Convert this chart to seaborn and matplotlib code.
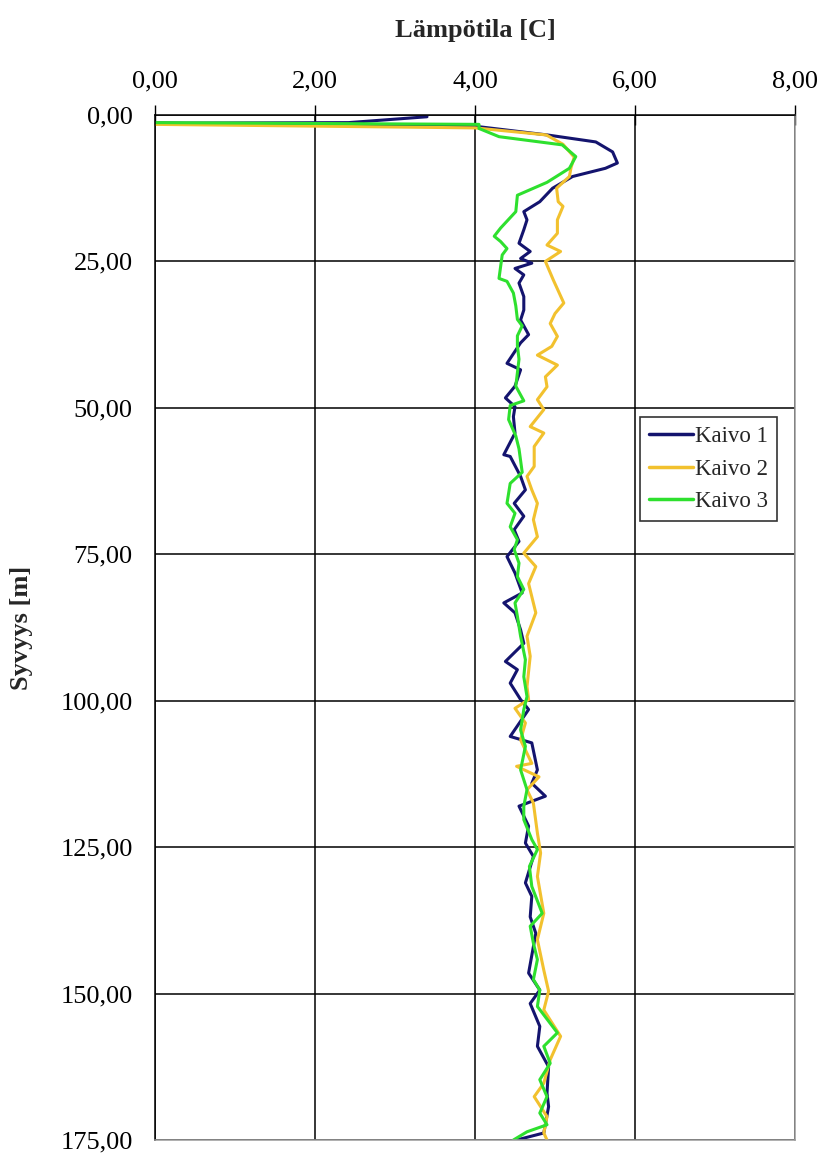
import pandas as pd
import matplotlib
matplotlib.use('Agg')
import matplotlib.pyplot as plt
import seaborn as sns

# Kaivo 1 (depth m, temperature C)
k1_depth = [0.3, 1.3, 1.4, 2.0, 3.4, 4.6, 6.3, 8.2, 9.1, 10.5, 12.5, 14.8, 16.5, 17.9, 19.6,
            21.9, 23.3, 24.5, 25.3, 26.2, 27.3, 28.7, 31.0, 33.3, 35.0, 37.5, 38.9, 42.4, 43.5,
            46.3, 48.3, 49.8, 51.5, 54.3, 58.0, 58.3, 61.7, 64.0, 66.3, 68.5, 70.8, 72.8, 75.4,
            78.2, 81.6, 83.3, 85.0, 87.9, 90.2, 93.3, 94.7, 97.0, 99.8, 101.5, 106.1, 107.2,
            111.8, 114.1, 116.3, 118.0, 121.4, 124.3, 126.6, 131.1, 133.4, 136.9, 139.7, 146.5,
            149.4, 151.7, 155.6, 159.0, 162.5, 167.0, 169.3, 173.8, 175.0]
k1_temp = [3.40, 2.42, 0.00, 4.05, 4.90, 5.51, 5.72, 5.78, 5.63, 5.22, 4.97, 4.81, 4.61, 4.65, 4.61,
           4.55, 4.69, 4.57, 4.71, 4.50, 4.61, 4.55, 4.61, 4.61, 4.57, 4.67, 4.57, 4.40, 4.57,
           4.50, 4.38, 4.50, 4.48, 4.50, 4.36, 4.44, 4.57, 4.63, 4.49, 4.61, 4.49, 4.55, 4.40,
           4.50, 4.59, 4.36, 4.50, 4.57, 4.61, 4.38, 4.53, 4.44, 4.57, 4.67, 4.44, 4.71,
           4.78, 4.71, 4.88, 4.55, 4.67, 4.63, 4.73, 4.63, 4.71, 4.69, 4.76, 4.67,
           4.81, 4.69, 4.81, 4.78, 4.92, 4.90, 4.92, 4.86, 4.52]

# Kaivo 2
k2_depth = [1.6, 2.2, 3.4, 5.0, 7.2, 9.0, 10.5, 12.5, 14.8, 15.6, 17.9, 20.2, 22.2, 23.3, 25.0,
            28.2, 32.1, 33.9, 35.6, 37.8, 39.5, 41.0, 42.7, 44.7, 46.4, 48.6, 50.3, 53.2, 54.3,
            56.6, 60.0, 61.7, 64.0, 66.3, 69.1, 72.0, 74.8, 77.1, 80.0, 85.0, 89.0, 92.4, 97.6,
            99.8, 101.3, 103.8, 106.7, 110.7, 111.2, 113.0, 115.2, 117.5, 122.6, 126.0, 130.0,
            136.3, 140.8, 146.0, 149.6, 152.8, 157.3, 161.3, 165.3, 167.6, 171.0, 173.8, 175.0]
k2_temp = [0.00, 4.00, 4.89, 5.10, 5.24, 5.20, 5.18, 5.02, 5.04, 5.10, 5.03, 5.03, 4.90, 5.07, 4.88,
           4.98, 5.11, 5.00, 4.94, 5.03, 4.96, 4.78, 5.03, 4.88, 4.90, 4.78, 4.86, 4.69, 4.86,
           4.74, 4.74, 4.65, 4.71, 4.78, 4.73, 4.78, 4.61, 4.76, 4.67, 4.76, 4.65, 4.69, 4.65,
           4.67, 4.50, 4.63, 4.57, 4.71, 4.52, 4.80, 4.65, 4.73, 4.78, 4.82, 4.78,
           4.86, 4.78, 4.86, 4.92, 4.86, 5.07, 4.94, 4.86, 4.74, 4.90, 4.86, 4.90]

# Kaivo 3
k3_depth = [1.3, 1.6, 2.3, 3.7, 5.1, 7.1, 9.1, 11.5, 13.7, 16.5, 19.3, 20.7, 21.6, 22.8, 23.9,
            25.9, 27.9, 28.4, 30.4, 32.6, 34.9, 36.0, 37.7, 39.4, 41.7, 44.0, 46.3, 48.8, 49.6,
            52.0, 54.8, 57.0, 61.0, 62.9, 66.3, 68.0, 70.3, 72.5, 74.2, 76.5, 78.8, 81.0, 83.3,
            85.6, 89.0, 93.0, 95.9, 99.3, 101.5, 105.0, 107.8, 111.8, 115.2, 118.0, 120.3, 123.7,
            125.4, 128.3, 131.7, 136.3, 138.5, 141.4, 144.2, 147.6, 149.4, 152.2, 156.7, 159.0,
            161.9, 164.7, 167.6, 170.4, 172.4, 173.6, 175.0]
k3_temp = [0.00, 4.05, 4.05, 4.30, 5.09, 5.26, 5.18, 4.90, 4.53, 4.51, 4.32, 4.24, 4.32, 4.40, 4.34,
           4.32, 4.30, 4.40, 4.48, 4.51, 4.53, 4.59, 4.53, 4.53, 4.55, 4.53, 4.51, 4.61, 4.44,
           4.42, 4.51, 4.55, 4.59, 4.44, 4.40, 4.50, 4.44, 4.53, 4.49, 4.55, 4.53, 4.61, 4.50,
           4.53, 4.57, 4.63, 4.61, 4.65, 4.61, 4.57, 4.63, 4.57, 4.65, 4.61, 4.61, 4.71,
           4.78, 4.68, 4.71, 4.84, 4.69, 4.73, 4.78, 4.73, 4.81, 4.78, 5.03, 4.86,
           4.94, 4.81, 4.90, 4.81, 4.90, 4.65, 4.48]

names = ['Kaivo 1', 'Kaivo 2', 'Kaivo 3']
colors = {'Kaivo 1': '#14146e', 'Kaivo 2': '#f2c12e', 'Kaivo 3': '#2ee02e'}
x_ticks = [0, 2, 4, 6, 8]
y_ticks = [0, 25, 50, 75, 100, 125, 150, 175]

df = pd.concat([
    pd.DataFrame({'syvyys': k1_depth, 'lampo': k1_temp, 'kaivo': names[0]}),
    pd.DataFrame({'syvyys': k2_depth, 'lampo': k2_temp, 'kaivo': names[1]}),
    pd.DataFrame({'syvyys': k3_depth, 'lampo': k3_temp, 'kaivo': names[2]}),
], ignore_index=True)

sns.set_style('white')
plt.rcParams['font.family'] = ['Liberation Serif', 'DejaVu Serif']

fig = plt.figure(figsize=(8.22, 11.53), dpi=100)
ax = fig.add_axes([155 / 822, 1 - 1140 / 1153, 640 / 822, 1025 / 1153])

sns.lineplot(data=df, x='lampo', y='syvyys', hue='kaivo', palette=colors, sort=False,
             estimator=None, linewidth=2.2, ax=ax)

ax.set_xlim(0, 8)
ax.set_ylim(175, 0)
ax.set_xticks(x_ticks)
ax.set_yticks(y_ticks)
ax.set_xticklabels([f'{v:.2f}'.replace('.', ',') for v in x_ticks])
ax.set_yticklabels([f'{v:.2f}'.replace('.', ',') for v in y_ticks])
ax.xaxis.tick_top()
ax.xaxis.set_label_position('top')
ax.tick_params(axis='both', direction='inout', length=14, width=1, colors='black',
               labelsize=19, pad=9)
ax.grid(True, color='black', linewidth=1.1)
ax.set_axisbelow(True)
for s in ['top', 'left']:
    ax.spines[s].set_color('black')
    ax.spines[s].set_linewidth(1.1)
for s in ['right', 'bottom']:
    ax.spines[s].set_color('#9a9a9a')
    ax.spines[s].set_linewidth(1.1)

ax.set_xlabel('Lämpötila [C]', fontsize=19, fontweight='bold', labelpad=24)
ax.set_ylabel('Syvyys [m]', fontsize=19, fontweight='bold', labelpad=20)

leg = ax.legend(loc='upper left', bbox_to_anchor=(0.758, 0.7054), fontsize=16.5, frameon=True,
                fancybox=False, edgecolor='black', handlelength=1.9, handletextpad=0.1,
                borderpad=0.4, labelspacing=0.5, borderaxespad=0)
leg.get_frame().set_linewidth(1.2)
for line in leg.get_lines():
    line.set_linewidth(2.5)

fig.savefig('out.png', dpi=100)
